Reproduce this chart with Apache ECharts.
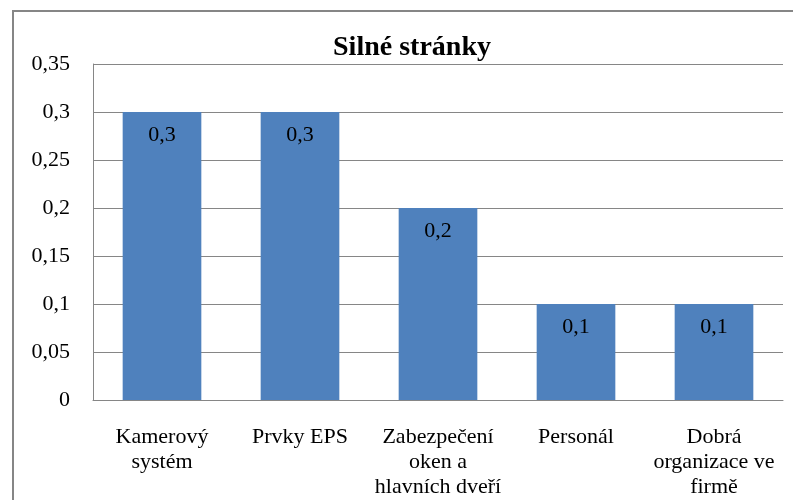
<!DOCTYPE html>
<html>
<head>
<meta charset="utf-8">
<script src="https://cdn.jsdelivr.net/npm/echarts@6/dist/echarts.min.js"></script>
<style>
  html, body { margin: 0; padding: 0; background: #fff; }
  #chart { width: 793px; height: 500px; }
</style>
</head>
<body>
<div id="chart"></div>
<script>
// Strengths of the security setup, weighted scores
const categories = [
  'Kamerový\nsystém',
  'Prvky EPS',
  'Zabezpečení\noken a\nhlavních dveří',
  'Personál',
  'Dobrá\norganizace ve\nfirmě'
];
const values = [0.3, 0.3, 0.2, 0.1, 0.1];
const yTicks = [0, 0.05, 0.1, 0.15, 0.2, 0.25, 0.3, 0.35];

const serif = '"Liberation Serif", "Times New Roman", serif';
const comma = v => String(v).replace('.', ',');

const chart = echarts.init(document.getElementById('chart'));
chart.setOption({
  animation: false,
  backgroundColor: '#ffffff',
  graphic: [{
    type: 'rect',
    shape: { x: 13, y: 11, width: 820, height: 600 },
    style: { fill: 'none', stroke: '#868686', lineWidth: 2 },
    silent: true
  }],
  title: {
    text: 'Silné stránky',
    left: 407,
    textAlign: 'center',
    top: 29,
    textStyle: { fontFamily: serif, fontWeight: 'bold', fontSize: 28, color: '#000' }
  },
  grid: { left: 93, right: 10, top: 64, bottom: 100, containLabel: false },
  xAxis: {
    type: 'category',
    data: categories,
    axisTick: { show: false },
    axisLine: { show: true, lineStyle: { color: '#868686', width: 1 } },
    axisLabel: {
      interval: 0,
      margin: 25,
      fontFamily: serif,
      fontSize: 22,
      lineHeight: 25,
      color: '#000'
    }
  },
  yAxis: {
    type: 'value',
    min: yTicks[0],
    max: yTicks[yTicks.length - 1],
    interval: 0.05,
    axisLine: { show: true, lineStyle: { color: '#868686', width: 1 } },
    axisTick: { show: false },
    splitLine: { show: true, lineStyle: { color: '#868686', width: 1 } },
    axisLabel: {
      margin: 23,
      fontFamily: serif,
      fontSize: 22,
      color: '#000',
      formatter: v => comma(+v.toFixed(2))
    }
  },
  series: [{
    type: 'bar',
    data: values,
    barWidth: '57%',
    itemStyle: { color: '#4F81BD' },
    label: {
      show: true,
      position: 'insideTop',
      distance: 12,
      fontFamily: serif,
      fontSize: 22,
      color: '#000',
      formatter: p => comma(p.value)
    }
  }]
});
</script>
</body>
</html>
